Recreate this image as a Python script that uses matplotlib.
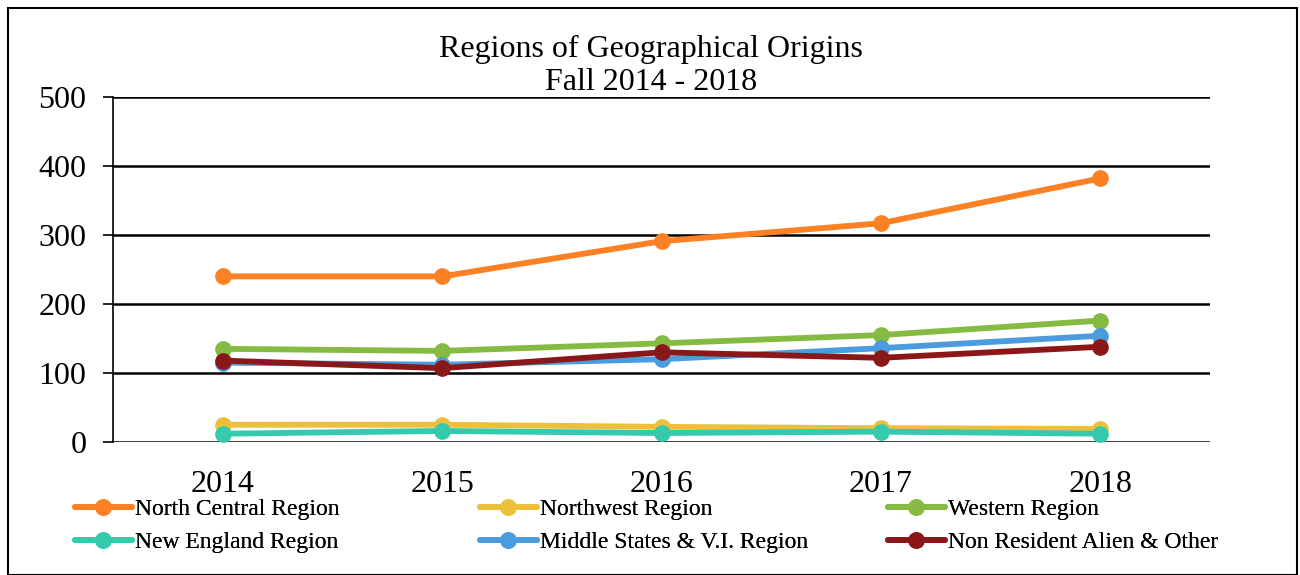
import matplotlib.pyplot as plt
import numpy as np

plt.rcParams['font.family'] = ['Liberation Serif', 'DejaVu Serif']

# daten
years = ['2014', '2015', '2016', '2017', '2018']
north_central = [240, 240, 291, 317, 382]
northwest = [25, 25, 22, 20, 19]
western = [135, 132, 143, 155, 176]
new_england = [12, 16, 13, 15, 12]
middle_states = [115, 112, 120, 136, 154]
non_resident = [118, 107, 130, 122, 138]

series = [
    ('North Central Region', north_central, '#FB8124'),
    ('Northwest Region', northwest, '#EDC03C'),
    ('Western Region', western, '#85BB42'),
    ('New England Region', new_england, '#35CAAD'),
    ('Middle States & V.I. Region', middle_states, '#4A9CDE'),
    ('Non Resident Alien & Other', non_resident, '#8B1818'),
]

fig = plt.figure(figsize=(13, 5.75), dpi=100)
ax = fig.add_axes([113/1300, 1 - 442/575, 1097/1300, 345/575])

x = np.arange(len(years))
handles = {}
for name, vals, col in series:
    h, = ax.plot(x, vals, color=col, lw=4.2, marker='o', markersize=11,
                 solid_capstyle='round', label=name)
    handles[name] = h

ax.set_xlim(-0.5, len(years) - 0.5)
ax.set_ylim(0, 500)
ax.set_yticks([0, 100, 200, 300, 400, 500])
ax.set_xticks(x)
ax.set_xticklabels(years)
ax.yaxis.grid(True, color='black', lw=1.8)
ax.set_axisbelow(True)
for s in ['top', 'right', 'bottom']:
    ax.spines[s].set_visible(False)
ax.spines['left'].set_linewidth(1.2)
ax.tick_params(axis='y', length=7, width=1.2, labelsize=23, pad=12)
ax.tick_params(axis='x', length=0, labelsize=23, pad=20)

fig.text(651/1300, 1 - 49/575, 'Regions of Geographical Origins', ha='center', va='center', fontsize=23)
fig.text(651/1300, 1 - 82/575, 'Fall 2014 - 2018', ha='center', va='center', fontsize=23)

# legende: drei spalten, je zwei zeilen
cols = [
    (75, ['North Central Region', 'New England Region']),
    (480, ['Northwest Region', 'Middle States & V.I. Region']),
    (888, ['Western Region', 'Non Resident Alien & Other']),
]
for xpos, names in cols:
    leg = fig.legend([handles[n] for n in names], names, frameon=False,
                     loc='center left', bbox_to_anchor=(xpos/1300, 1 - 526/575),
                     fontsize=17, handlelength=2.4, handletextpad=0.15,
                     labelspacing=0.5, borderaxespad=0, borderpad=0)
    fig.add_artist(leg)

# rahmen
fig.patches.append(plt.Rectangle((8/1300, 0), 1289/1300, 1 - 8/575, transform=fig.transFigure,
                                 fill=False, edgecolor='black', lw=1.5))

fig.savefig('out.png', dpi=100)
